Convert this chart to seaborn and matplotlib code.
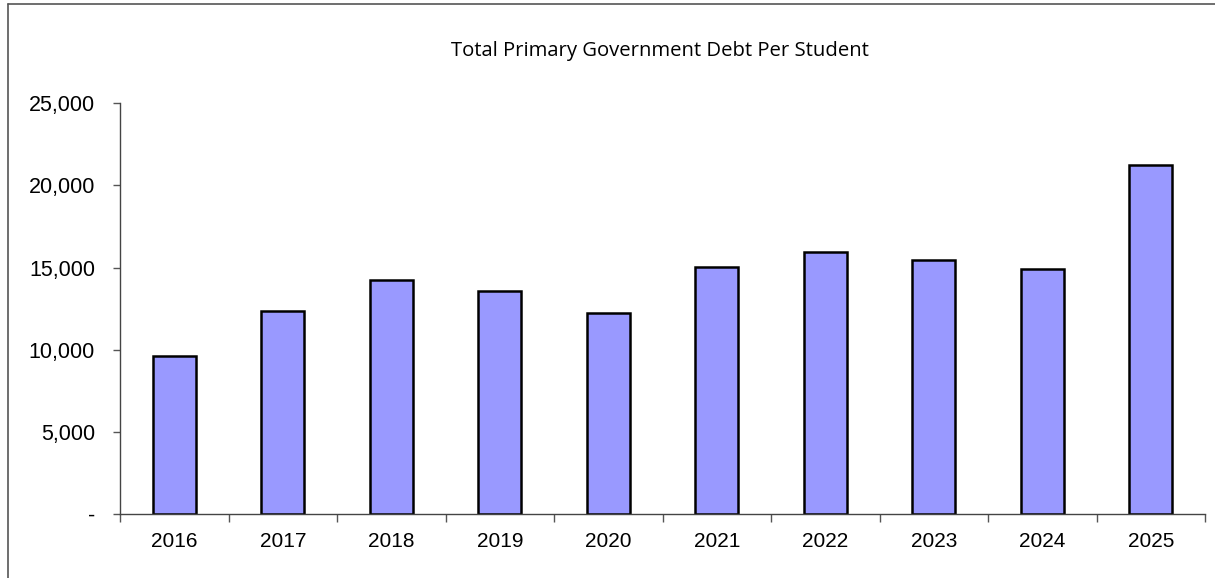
import matplotlib
matplotlib.use("Agg")
import matplotlib.pyplot as plt
import matplotlib.ticker as mticker
from matplotlib.lines import Line2D
import seaborn as sns
import pandas as pd

years = ["2016", "2017", "2018", "2019", "2020", "2021", "2022", "2023", "2024", "2025"]
debt_per_student = [9630, 12360, 14260, 13590, 12230, 15050, 15930, 15480, 14930, 21240]
y_ticks = [0, 5000, 10000, 15000, 20000, 25000]

df = pd.DataFrame({"year": years, "debt": debt_per_student})

sns.set_theme(style="white")
plt.rcParams["font.family"] = ["Liberation Sans", "DejaVu Sans"]

fig = plt.figure(figsize=(12.15, 5.78), dpi=100)
ax = fig.add_axes([0.0988, 0.1107, 0.8930, 0.7106])

sns.barplot(data=df, x="year", y="debt", ax=ax, color="#9999ff",
            saturation=1, width=0.40, edgecolor="black", linewidth=1.8)

ax.set_xlim(-0.5, len(years) - 0.5)
ax.set_ylim(0, 25000)
ax.set_yticks(y_ticks)
ax.yaxis.set_major_formatter(
    mticker.FuncFormatter(lambda v, _: "-" if v == 0 else f"{int(v):,}"))

# x ticks sit on the category boundaries, labels stay centred under the bars
ax.set_xticks(range(len(years)))
ax.set_xticklabels(years)
ax.set_xticks([i - 0.5 for i in range(len(years) + 1)], minor=True)
ax.tick_params(axis="x", which="major", length=0, pad=13, labelsize=15, colors="black")
ax.tick_params(axis="x", which="minor", length=6, width=1, color="#555555", direction="out", bottom=True)
ax.tick_params(axis="y", which="major", length=5, width=1, color="#555555", direction="out",
               left=True, pad=13, labelsize=15.5, colors="black")

for side in ["top", "right"]:
    ax.spines[side].set_visible(False)
for side in ["left", "bottom"]:
    ax.spines[side].set_color("#444444")
    ax.spines[side].set_linewidth(1.0)

ax.set_xlabel("")
ax.set_ylabel("")

fig.text(0.543, 0.912, "Total Primary Government Debt Per Student",
         ha="center", va="center", fontsize=14.6, family=["Open Sans", "DejaVu Sans"],
         color="black")

# chart-area frame along the top and left edges
fig.add_artist(Line2D([0.0066, 1.0], [0.9931, 0.9931], transform=fig.transFigure,
                      color="#555555", linewidth=1.2))
fig.add_artist(Line2D([0.0066, 0.0066], [0.0, 0.9931], transform=fig.transFigure,
                      color="#555555", linewidth=1.2))

fig.savefig("out.png", dpi=100, facecolor="white")
